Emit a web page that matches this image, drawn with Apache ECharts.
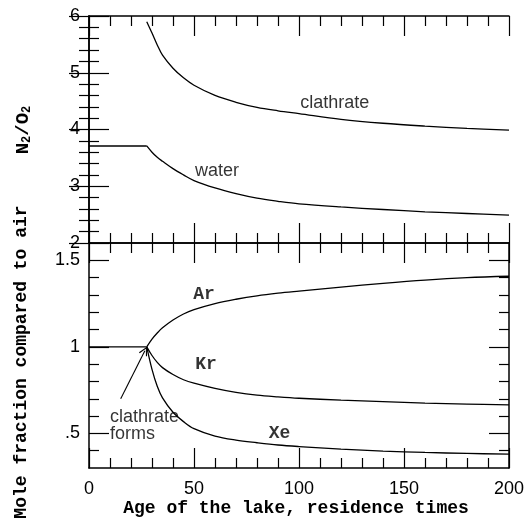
<!DOCTYPE html>
<html>
<head>
<meta charset="utf-8">
<script src="https://cdn.jsdelivr.net/npm/echarts@6/dist/echarts.min.js"></script>
<style>
html,body{margin:0;padding:0;background:#fff;}
#chart{width:527px;height:524px;}
</style>
</head>
<body>
<div id="chart"></div>
<script>
// ages (residence times); index 1 is where the clathrate forms
const ages = [0, 27.5, 30, 32.5, 35, 40, 45, 50, 60, 70, 80, 90, 100, 120, 140, 160, 180, 200];
// N2/O2 ratio
const clathrate = [null, 5.9, 5.7, 5.49, 5.31, 5.08, 4.91, 4.78, 4.6, 4.48, 4.39, 4.33, 4.28, 4.18, 4.11, 4.06, 4.02, 3.99];
const water = [3.71, 3.71, 3.6, 3.51, 3.44, 3.31, 3.2, 3.1, 2.97, 2.87, 2.79, 2.735, 2.69, 2.635, 2.59, 2.55, 2.52, 2.49];
// mole fraction compared to air
const ar = [1, 1, 1.045, 1.08, 1.11, 1.155, 1.19, 1.215, 1.25, 1.275, 1.295, 1.31, 1.322, 1.345, 1.367, 1.386, 1.4, 1.408];
const kr = [1, 1, 0.95, 0.91, 0.88, 0.84, 0.81, 0.79, 0.76, 0.737, 0.721, 0.711, 0.703, 0.692, 0.683, 0.675, 0.669, 0.665];
const xe = [1, 1, 0.87, 0.772, 0.705, 0.622, 0.568, 0.527, 0.484, 0.461, 0.446, 0.433, 0.424, 0.409, 0.398, 0.39, 0.384, 0.38];
// tick values for the lower panel
const mfMajor = [0.5, 1, 1.5];
const mfMinor = [0.4, 0.6, 0.7, 0.8, 0.9, 1.1, 1.2, 1.3, 1.4];
// annotations
const topNotes = [{text: 'clathrate', at: [117, 4.47]}, {text: 'water', at: [61, 3.27]}];
const gasNotes = [{text: 'Ar', at: [54.8, 1.3]}, {text: 'Kr', at: [55.7, 0.898]}, {text: 'Xe', at: [90.7, 0.5]}];
const formsNote = {text: 'clathrate\nforms', at: [10, 0.545]};
const arrowFrom = [15.1, 0.7];
const arrowTo = [26.6, 0.978];

const sans = '"Liberation Sans", Arial, Helvetica, sans-serif';
const mono = '"Liberation Mono", "Courier New", monospace';
const black = '#000';
const knee = 1;

const pairs = (ys) => ages.map((a, i) => [a, ys[i]]);

function xAx(grid, pos, labels) {
    return {
        gridIndex: grid, type: 'value', position: pos, min: 0, max: 200, interval: 50,
        axisLine: {lineStyle: {color: black, width: 1.5}},
        axisTick: {inside: true, length: 20, lineStyle: {color: black, width: 1.2}},
        minorTick: {show: true, splitNumber: 5, length: 10, lineStyle: {color: black, width: 1.2}},
        axisLabel: {show: labels, margin: 12, color: black, fontFamily: sans, fontSize: 18},
        splitLine: {show: false}
    };
}
function yAx(grid, pos, labels, extra) {
    return Object.assign({
        gridIndex: grid, type: 'value', position: pos,
        axisLine: {lineStyle: {color: black, width: 1.5}},
        axisLabel: {show: labels, margin: 9, color: black, fontFamily: sans, fontSize: 18},
        splitLine: {show: false}
    }, extra);
}
const tickStyle = {color: black, width: 1.2};
const topY = {min: 2, max: 6, interval: 1,
    axisTick: {inside: true, length: 20, lineStyle: tickStyle},
    minorTick: {show: true, splitNumber: 5, length: 10, lineStyle: tickStyle}};
const fmt = (v) => (v < 1 ? String(v).replace(/^0/, '') : String(v));
const botMajor = {min: 0.3, max: 1.6,
    axisTick: {inside: true, length: 20, customValues: mfMajor, lineStyle: tickStyle}};
const botMinor = {min: 0.3, max: 1.6, axisLine: {show: false},
    axisTick: {inside: true, length: 10, customValues: mfMinor, lineStyle: tickStyle}};

// flat part before the clathrate forms, then the smooth decline / rise
function flat(ys, xi, yi) {
    return {
        type: 'line', xAxisIndex: xi, yAxisIndex: yi, data: pairs(ys).slice(0, knee + 1),
        showSymbol: false, lineStyle: {color: black, width: 1.4}, silent: true
    };
}
function curve(name, ys, xi, yi) {
    return {
        name: name, type: 'line', xAxisIndex: xi, yAxisIndex: yi, data: pairs(ys).slice(knee),
        showSymbol: false, smooth: 0.35,
        lineStyle: {color: black, width: 1.3}, silent: true
    };
}
function notes(list, xi, yi, style) {
    return {
        type: 'scatter', xAxisIndex: xi, yAxisIndex: yi, symbolSize: 0, silent: true,
        data: list.map((n) => ({value: n.at, name: n.text})),
        label: Object.assign({show: true, position: 'inside', formatter: '{b}', color: black}, style)
    };
}

const myChart = echarts.init(document.getElementById('chart'));
const krSeries = curve('Kr', kr, 2, 2);
krSeries.markLine = {
    silent: true,
    symbol: ['none', 'path://M0,0 L-6,13 L-4.6,13.6 L0,3.4 L4.6,13.6 L6,13 Z'],
    symbolSize: 9,
    label: {show: false},
    lineStyle: {color: black, width: 1.1, type: 'solid'},
    itemStyle: {color: black},
    data: [[{coord: arrowFrom}, {coord: arrowTo}]]
};
const option = {
    animation: false,
    backgroundColor: '#fff',
    grid: [
        {left: 89, top: 16, width: 420, height: 227, outerBoundsMode: 'none'},
        {left: 89, top: 243, width: 420, height: 225, outerBoundsMode: 'none'}
    ],
    xAxis: [xAx(0, 'bottom', false), xAx(0, 'top', false), xAx(1, 'bottom', true), xAx(1, 'top', false)],
    yAxis: [
        yAx(0, 'left', true, topY),
        yAx(0, 'right', false, topY),
        yAx(1, 'left', true, Object.assign({}, botMajor, {axisLabel: {show: true, margin: 9, color: black, fontFamily: sans, fontSize: 18, customValues: mfMajor, formatter: fmt}})),
        yAx(1, 'left', false, botMinor),
        yAx(1, 'right', false, botMajor),
        yAx(1, 'right', false, botMinor)
    ],
    series: [
        curve('clathrate', clathrate, 0, 0),
        flat(water, 0, 0),
        curve('water', water, 0, 0),
        flat(ar, 2, 2),
        curve('Ar', ar, 2, 2),
        krSeries,
        curve('Xe', xe, 2, 2),
        notes(topNotes, 0, 0, {fontFamily: sans, fontSize: 18}),
        notes(gasNotes, 2, 2, {fontFamily: mono, fontSize: 18, fontWeight: 'bold'}),
        notes([formsNote], 2, 2, {fontFamily: sans, fontSize: 18, align: 'left', lineHeight: 17})
    ],
    graphic: [
        {type: 'text', x: 21, y: 362, rotation: Math.PI / 2,
            style: {text: 'Mole fraction compared to air', font: 'bold 18px ' + mono, fill: black, align: 'center', verticalAlign: 'middle'}},
        {type: 'text', x: 23, y: 130, rotation: Math.PI / 2,
            style: {text: '{a|N}{s|2}{a|/O}{s|2}', align: 'center', verticalAlign: 'middle', fill: black,
                rich: {a: {fontFamily: mono, fontWeight: 'bold', fontSize: 19, height: 22, verticalAlign: 'middle'},
                       s: {fontFamily: mono, fontWeight: 'bold', fontSize: 12, height: 22, padding: [8, 0, 0, 0], verticalAlign: 'bottom'}}}},
        {type: 'text', x: 296, y: 508,
            style: {text: 'Age of the lake, residence times', font: 'bold 18px ' + mono, fill: black, align: 'center', verticalAlign: 'middle'}}
    ]
};
myChart.setOption(option);
</script>
</body>
</html>
